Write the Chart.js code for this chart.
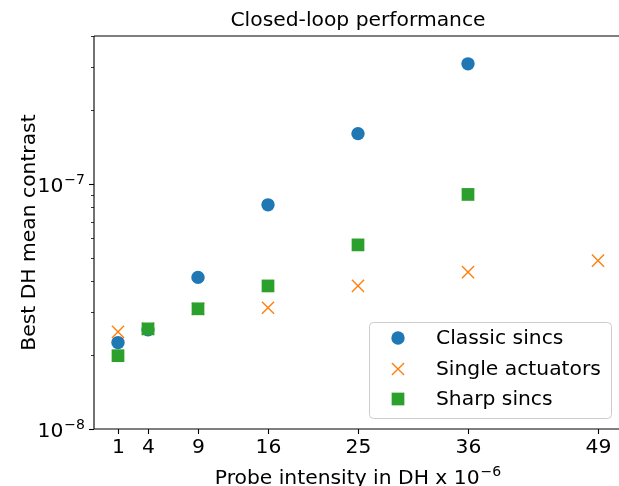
<!DOCTYPE html>
<html><head><meta charset="utf-8">
<script src="https://cdn.jsdelivr.net/npm/chart.js@4.4.1/dist/chart.umd.min.js"></script>
<style>
html,body{margin:0;padding:0;overflow:hidden;background:#fff;width:619px;height:486px}
#wrap{width:640px;height:486px}
canvas{display:block}
</style>
</head><body><div id="wrap"><canvas id="c" width="640" height="486"></canvas></div>
<script>
// ---- data ----
const probeIntensity = [1, 4, 9, 16, 25, 36, 49];
const classicSincs    = [2.25e-8, 2.54e-8, 4.15e-8, 8.2e-8, 1.6e-7, 3.08e-7, null];
const singleActuators = [2.49e-8, 2.56e-8, 3.09e-8, 3.12e-8, 3.83e-8, 4.36e-8, 4.86e-8];
const sharpSincs      = [1.99e-8, 2.56e-8, 3.09e-8, 3.83e-8, 5.63e-8, 9.04e-8, null];
const xTicks = [1, 4, 9, 16, 25, 36, 49];
const yMajorTicks = [1e-8, 1e-7];
const yMajorExp = [-8, -7];
const yMinorTicks = [2e-8, 3e-8, 4e-8, 5e-8, 6e-8, 7e-8, 8e-8, 9e-8, 2e-7, 3e-7, 4e-7];
const seriesNames = ['Classic sincs', 'Single actuators', 'Sharp sincs'];
const titleText = 'Closed-loop performance';
const yLabel = 'Best DH mean contrast';
const xLabelBase = 'Probe intensity in DH x 10';
const xLabelExp = '\u22126';

function pts(ys) {
  const out = [];
  probeIntensity.forEach((x, i) => { if (ys[i] !== null) out.push({x: x, y: ys[i]}); });
  return out;
}

const FONT = '"DejaVu Sans", sans-serif';
const FS = 20.3;

const axesPlugin = {
  id: 'mplAxes',
  afterDraw(chart) {
    const ctx = chart.ctx;
    const a = chart.chartArea;
    const xs = chart.scales.x, ys = chart.scales.y;
    ctx.save();
    ctx.fillStyle = '#000';
    ctx.strokeStyle = '#000';
    // spines
    ctx.lineWidth = 1.1;
    ctx.beginPath();
    ctx.moveTo(a.left, a.top); ctx.lineTo(a.right, a.top);
    ctx.moveTo(a.left, a.top); ctx.lineTo(a.left, a.bottom);
    ctx.moveTo(a.left, a.bottom); ctx.lineTo(a.right, a.bottom);
    ctx.moveTo(a.right, a.top); ctx.lineTo(a.right, a.bottom);
    ctx.stroke();
    // x ticks
    ctx.font = FS + 'px ' + FONT;
    ctx.textAlign = 'center';
    ctx.textBaseline = 'top';
    xTicks.forEach(t => {
      const px = Math.round(xs.getPixelForValue(t)) + 0.5;
      ctx.beginPath(); ctx.moveTo(px, a.bottom); ctx.lineTo(px, a.bottom + 5); ctx.stroke();
      ctx.fillText(String(t), px, a.bottom + 9);
    });
    // y minor ticks
    ctx.lineWidth = 0.8;
    yMinorTicks.forEach(t => {
      const py = Math.round(ys.getPixelForValue(t)) + 0.5;
      ctx.beginPath(); ctx.moveTo(a.left, py); ctx.lineTo(a.left - 3, py); ctx.stroke();
    });
    // y major ticks & labels
    ctx.lineWidth = 1.1;
    yMajorTicks.forEach((t, i) => {
      const py = Math.round(ys.getPixelForValue(t)) + 0.5;
      ctx.beginPath(); ctx.moveTo(a.left, py); ctx.lineTo(a.left - 5, py); ctx.stroke();
      const sup = '\u2212' + String(-yMajorExp[i]);
      ctx.font = '14px ' + FONT;
      const wSup = ctx.measureText(sup).width;
      ctx.textAlign = 'right';
      ctx.textBaseline = 'alphabetic';
      const right = a.left - 9;
      ctx.fillText(sup, right, py - 1);
      ctx.font = FS + 'px ' + FONT;
      ctx.fillText('10', right - wSup - 1, py + 7);
    });
    // title
    ctx.font = FS + 'px ' + FONT;
    ctx.textAlign = 'center';
    ctx.textBaseline = 'alphabetic';
    const cx = (a.left + a.right) / 2;
    ctx.fillText(titleText, cx, 26);
    // x label
    ctx.font = FS + 'px ' + FONT;
    const wBase = ctx.measureText(xLabelBase).width;
    ctx.font = '14px ' + FONT;
    const wE = ctx.measureText(xLabelExp).width;
    const startX = cx - (wBase + 1 + wE) / 2;
    ctx.textAlign = 'left';
    ctx.font = FS + 'px ' + FONT;
    ctx.fillText(xLabelBase, startX, 484);
    ctx.font = '14px ' + FONT;
    ctx.fillText(xLabelExp, startX + wBase + 1, 476);
    // y label
    ctx.save();
    ctx.translate(30, (a.top + a.bottom) / 2);
    ctx.rotate(-Math.PI / 2);
    ctx.font = FS + 'px ' + FONT;
    ctx.textAlign = 'center';
    ctx.textBaseline = 'middle';
    ctx.fillText(yLabel, 0, 0);
    ctx.restore();
    // legend
    const lx = 369, ly = 322, lw = 242, lh = 96;
    ctx.beginPath();
    if (ctx.roundRect) ctx.roundRect(lx + 0.5, ly + 0.5, lw, lh, 4); else ctx.rect(lx + 0.5, ly + 0.5, lw, lh);
    ctx.fillStyle = 'rgba(255,255,255,0.8)';
    ctx.fill();
    ctx.strokeStyle = '#cccccc';
    ctx.lineWidth = 1;
    ctx.stroke();
    const rows = [338, 369, 399];
    chart.data.datasets.forEach((ds, i) => {
      const y = rows[i];
      ctx.fillStyle = ds.backgroundColor;
      ctx.strokeStyle = ds.borderColor;
      ctx.lineWidth = ds.borderWidth;
      Chart.helpers.drawPoint(ctx, {pointStyle: ds.pointStyle, radius: ds.pointRadius, borderWidth: ds.borderWidth, rotation: 0}, 398, y);
      ctx.fillStyle = '#000';
      ctx.font = FS + 'px ' + FONT;
      ctx.textAlign = 'left';
      ctx.textBaseline = 'middle';
      ctx.fillText(ds.label, 436, y + 1);
    });
    ctx.restore();
  }
};

new Chart(document.getElementById('c'), {
  type: 'scatter',
  data: {
    datasets: [
      {label: seriesNames[0], data: pts(classicSincs), pointStyle: 'circle', pointRadius: 6.7,
       backgroundColor: '#1f77b4', borderColor: '#1f77b4', borderWidth: 0, order: 3},
      {label: seriesNames[1], data: pts(singleActuators), pointStyle: 'crossRot', pointRadius: 8.6,
       backgroundColor: '#ff7f0e', borderColor: '#ff7f0e', borderWidth: 1.4, order: 2},
      {label: seriesNames[2], data: pts(sharpSincs), pointStyle: 'rect', pointRadius: 9,
       backgroundColor: '#2ca02c', borderColor: '#2ca02c', borderWidth: 0, order: 1}
    ]
  },
  options: {
    responsive: false,
    animation: false,
    devicePixelRatio: 1,
    layout: {padding: {left: 94, top: 36, right: 18, bottom: 57}},
    plugins: {legend: {display: false}, tooltip: {enabled: false}, title: {display: false}},
    scales: {
      x: {type: 'linear', min: -1.4, max: 51.4, display: false},
      y: {type: 'logarithmic', min: 1e-8, max: 4e-7, display: false}
    }
  },
  plugins: [axesPlugin]
});
</script>
</body></html>
